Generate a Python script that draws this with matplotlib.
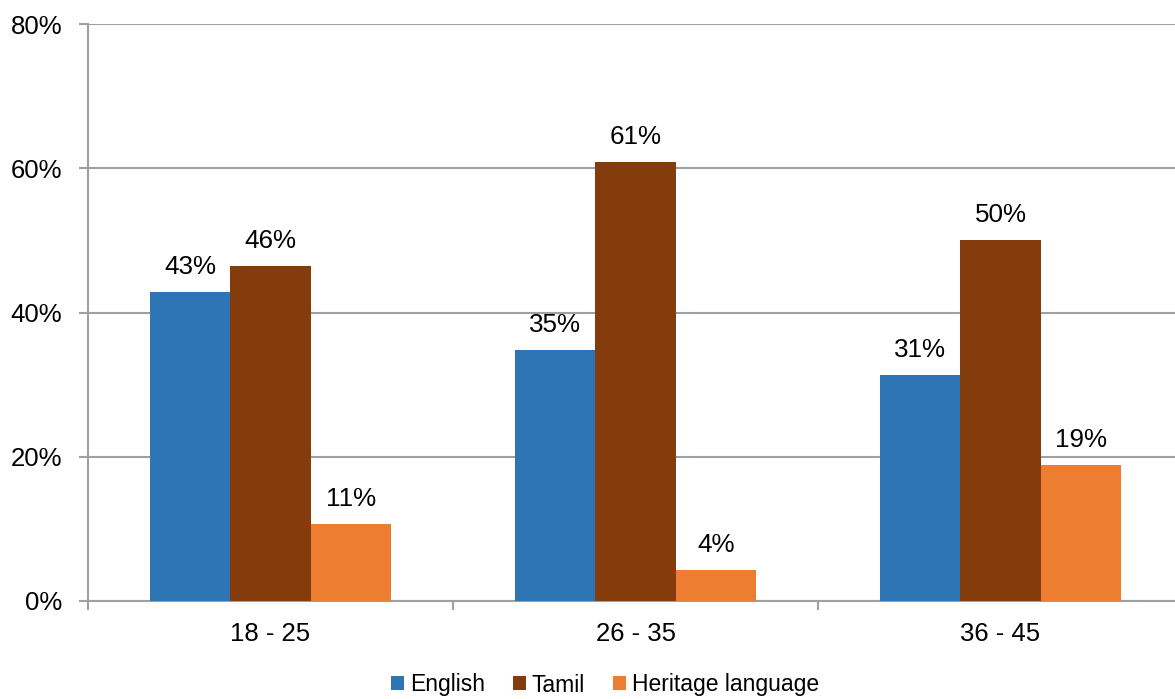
import numpy as np
import matplotlib.pyplot as plt
from matplotlib.patches import Patch
from matplotlib.ticker import FixedLocator

plt.rcParams['font.family'] = ['Liberation Sans', 'DejaVu Sans']

# --- data ---
age_groups = ['18 - 25', '26 - 35', '36 - 45']
series_names = ['English', 'Tamil', 'Heritage language']
english = [43, 35, 31]
tamil = [46, 61, 50]
heritage = [11, 4, 19]
# exact heights (labels show rounded values)
english_h = [42.9, 34.8, 31.3]
tamil_h = [46.4, 60.9, 50.0]
heritage_h = [10.7, 4.3, 18.8]

colors = ['#2E75B6', '#843C0C', '#ED7D31']
grey = '#A0A0A0'

fig = plt.figure(figsize=(11.75, 6.99), dpi=100)
ax = fig.add_axes([88 / 1175, 1 - 601 / 699, (1183 - 88) / 1175, (601 - 24) / 699])

x = np.arange(len(age_groups))
width = 0.22
for i, (heights, labels) in enumerate([(english_h, english), (tamil_h, tamil), (heritage_h, heritage)]):
    bars = ax.bar(x + (i - 1) * width, heights, width, color=colors[i],
                  label=series_names[i], zorder=3)
    for b, lab in zip(bars, labels):
        ax.text(b.get_x() + b.get_width() / 2, b.get_height() + 1.8, f'{lab}%',
                ha='center', va='bottom', fontsize=18.7, color='black')

ax.set_xlim(-0.5, 2.5)
ax.set_ylim(0, 80)
ax.set_yticks([0, 20, 40, 60, 80])
ax.set_yticklabels(['0%', '20%', '40%', '60%', '80%'])
ax.yaxis.grid(True, color=grey, linewidth=1.5, zorder=0)

# category labels centred, tick marks at category boundaries
ax.set_xticks(x)
ax.set_xticklabels(age_groups)
ax.tick_params(axis='x', which='major', length=0, pad=15, labelsize=18.5)
ax.xaxis.set_minor_locator(FixedLocator([-0.5, 0.5, 1.5, 2.5]))
ax.tick_params(axis='x', which='minor', length=6.5, width=1.5, color=grey)
ax.tick_params(axis='y', length=6.5, width=1.5, color=grey, labelsize=18.5, pad=12)

for s in ['top', 'right']:
    ax.spines[s].set_visible(False)
for s in ['left', 'bottom']:
    ax.spines[s].set_color(grey)
    ax.spines[s].set_linewidth(1.5)

handles = [Patch(facecolor=c, label=n) for c, n in zip(colors, series_names)]
fig.legend(handles=handles, loc='center', bbox_to_anchor=(605 / 1175, 1 - 685 / 699),
           ncol=3, frameon=False, fontsize=16.5, handlelength=0.57, handleheight=0.57,
           handletextpad=0.26, columnspacing=1.2, borderpad=0.1)

fig.savefig('out.png', dpi=100)
